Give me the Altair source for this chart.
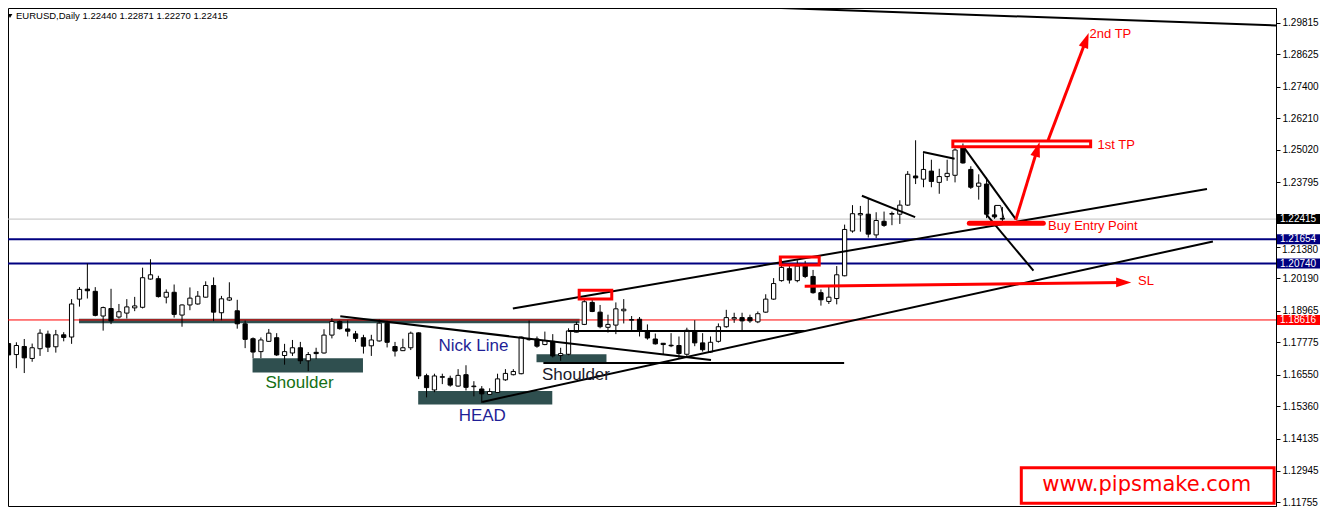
import altair as alt
import pandas as pd

# ---------------- data ----------------
title_text = "EURUSD,Daily  1.22440 1.22871 1.22270 1.22415"

opens = [1.17727, 1.17313, 1.17617, 1.17167, 1.17533, 1.18082, 1.17606, 1.18057, 1.17973, 1.19401,
         1.19778, 1.19694, 1.18764, 1.19046, 1.18727, 1.18874, 1.19071, 1.19093, 1.20156, 1.20170,
         1.19474, 1.19658, 1.18800, 1.19181, 1.19218, 1.19474, 1.19914, 1.18888, 1.19365, 1.18962,
         1.18471, 1.17910, 1.17423, 1.17811, 1.17947, 1.17277, 1.17372, 1.17569, 1.17079, 1.17397,
         1.17372, 1.18046, 1.18559, 1.18277, 1.18093, 1.17947, 1.17643, 1.17826, 1.18496, 1.17617,
         1.17460, 1.17569, 1.18130, 1.16518, 1.15980, 1.16456, 1.16419, 1.16126, 1.16555, 1.16104,
         1.16017, 1.15811, 1.15885, 1.16361, 1.16555, 1.16592, 1.17874, 1.17899, 1.17690, 1.17811,
         1.17277, 1.17324, 1.18156, 1.18449, 1.19277, 1.18910, 1.18339, 1.18423, 1.18962, 1.18606,
         1.18643, 1.18178, 1.17899, 1.17738, 1.17665, 1.17654, 1.17324, 1.18203, 1.17753, 1.17408,
         1.17811, 1.18361, 1.18654, 1.18705, 1.18705, 1.18544, 1.18910, 1.19401, 1.20097, 1.20548,
         1.20097, 1.20646, 1.20255, 1.19643, 1.19313, 1.19423, 1.20280, 1.21965, 1.22573, 1.22599,
         1.21819, 1.22331, 1.22599, 1.22599, 1.22940, 1.24038, 1.23918, 1.24222, 1.23797, 1.24016,
         1.24064, 1.25137, 1.24284, 1.23650, 1.23734, 1.22573, 1.22440]
highs = [1.17899, 1.17775, 1.17899, 1.17727, 1.18266, 1.18214, 1.18240, 1.18156, 1.19401, 1.19852,
         1.20742, 1.19852, 1.19119, 1.19789, 1.19218, 1.19401, 1.19485, 1.20584, 1.20903, 1.20280,
         1.19767, 1.19951, 1.19200, 1.19841, 1.19705, 1.20071, 1.20218, 1.19522, 1.20035, 1.19375,
         1.18595, 1.17958, 1.17958, 1.18277, 1.18119, 1.17716, 1.17863, 1.17789, 1.17408, 1.17569,
         1.18266, 1.18690, 1.18595, 1.18595, 1.18203, 1.18057, 1.18057, 1.18632, 1.18581, 1.17789,
         1.17910, 1.18178, 1.18150, 1.16592, 1.16592, 1.16592, 1.16518, 1.16764, 1.16910, 1.16310,
         1.16126, 1.16042, 1.16592, 1.16764, 1.16764, 1.17990, 1.18595, 1.17994, 1.18178, 1.18082,
         1.17569, 1.18302, 1.18544, 1.19375, 1.19375, 1.19181, 1.18815, 1.19277, 1.19401, 1.18764,
         1.18727, 1.18449, 1.18104, 1.17750, 1.18119, 1.17994, 1.18324, 1.18606, 1.18119, 1.17994,
         1.18485, 1.18998, 1.18888, 1.18888, 1.18815, 1.18936, 1.19584, 1.20192, 1.20866, 1.20720,
         1.20866, 1.20841, 1.20500, 1.19767, 1.19914, 1.20646, 1.22207, 1.22940, 1.22910, 1.23185,
         1.22672, 1.22698, 1.22698, 1.23123, 1.24222, 1.25383, 1.24896, 1.24650, 1.24310, 1.24650,
         1.25079, 1.25262, 1.24405, 1.24101, 1.23980, 1.22918, 1.22871]
lows = [1.16837, 1.16800, 1.16617, 1.17042, 1.17262, 1.17408, 1.17386, 1.17811, 1.17716, 1.19119,
        1.19423, 1.18753, 1.18214, 1.18460, 1.18669, 1.18669, 1.18947, 1.19050, 1.20134, 1.19460,
        1.19240, 1.18705, 1.18361, 1.18983, 1.19192, 1.19460, 1.18570, 1.18606, 1.19328, 1.18288,
        1.17555, 1.17178, 1.17178, 1.17789, 1.17262, 1.16932, 1.17262, 1.16958, 1.16690, 1.17141,
        1.17350, 1.17921, 1.18251, 1.17994, 1.17789, 1.17350, 1.17262, 1.17800, 1.17581, 1.17240,
        1.17445, 1.17482, 1.16390, 1.15701, 1.15896, 1.16200, 1.16104, 1.16104, 1.15958, 1.15738,
        1.15493, 1.15797, 1.15870, 1.16324, 1.16529, 1.16570, 1.17837, 1.17569, 1.17665, 1.17203,
        1.17079, 1.17288, 1.18150, 1.18423, 1.18910, 1.18302, 1.18141, 1.18082, 1.18485, 1.18240,
        1.17994, 1.17874, 1.17690, 1.17324, 1.17592, 1.17167, 1.17225, 1.17628, 1.17423, 1.17372,
        1.17764, 1.18324, 1.18507, 1.18178, 1.18507, 1.18496, 1.18888, 1.19375, 1.20060, 1.19987,
        1.20035, 1.20192, 1.19606, 1.19156, 1.19218, 1.19203, 1.20260, 1.21903, 1.21940, 1.21720,
        1.21702, 1.22123, 1.22185, 1.22233, 1.22910, 1.23734, 1.23614, 1.23614, 1.23368, 1.23855,
        1.23797, 1.24504, 1.23551, 1.23148, 1.22452, 1.22427, 1.22270]
closes = [1.17299, 1.17654, 1.17189, 1.17569, 1.18119, 1.17592, 1.18057, 1.17958, 1.19218, 1.19767,
          1.19716, 1.18789, 1.19082, 1.18581, 1.18925, 1.19108, 1.19145, 1.20207, 1.20317, 1.19496,
          1.19658, 1.18826, 1.19181, 1.19438, 1.19511, 1.19914, 1.18910, 1.19412, 1.19449, 1.18471,
          1.17885, 1.17408, 1.17863, 1.18119, 1.17299, 1.17423, 1.17569, 1.17079, 1.17313, 1.17350,
          1.18046, 1.18559, 1.18288, 1.18192, 1.17921, 1.17628, 1.17863, 1.18496, 1.17775, 1.17445,
          1.17569, 1.18119, 1.16507, 1.16068, 1.16507, 1.16482, 1.16163, 1.16529, 1.16079, 1.16126,
          1.15833, 1.15921, 1.16397, 1.16603, 1.16676, 1.17973, 1.17910, 1.17628, 1.17837, 1.17262,
          1.17350, 1.18203, 1.18449, 1.19302, 1.18936, 1.18361, 1.18449, 1.19035, 1.19020, 1.18632,
          1.18240, 1.17936, 1.17716, 1.17690, 1.17643, 1.17350, 1.18229, 1.17753, 1.17496, 1.17775,
          1.18361, 1.18705, 1.18705, 1.18581, 1.18581, 1.18852, 1.19401, 1.19987, 1.20595, 1.20119,
          1.20646, 1.20255, 1.19643, 1.19375, 1.19474, 1.20317, 1.22024, 1.22617, 1.22625, 1.21848,
          1.22361, 1.22178, 1.22625, 1.22940, 1.24101, 1.23965, 1.24284, 1.23833, 1.24016, 1.24137,
          1.25016, 1.24529, 1.23614, 1.23771, 1.22599, 1.22500, 1.22415]

tick_vals = [1.29815, 1.28625, 1.27400, 1.26210, 1.25020, 1.23795, 1.22605, 1.21380,
             1.20190, 1.18965, 1.17775, 1.16550, 1.15360, 1.14135, 1.12945, 1.11755]
hidden_tick_labels = [1.22605, 1.21380]   # covered by price boxes on the axis
shifted_label = "1.21380"                 # partly visible just below the 1.21654 box
shifted_label_price = 1.21380

# price level lines across the chart
level_prices = [1.22415, 1.21654, 1.20740, 1.18616]
level_colors = ["#C0C0C0", "#000080", "#000080", "#FF0000"]
level_widths = [1, 2, 2, 1]
# highlighted price boxes on the price axis
box_labels = ["1.22415", "1.21654", "1.20740", "1.18616"]
box_colors = ["#000000", "#000080", "#000080", "#FF0000"]

# dark zones (x1, x2 in bar index; y1, y2 in price)
zone_x1 = [8.94, 30.94, 51.94, 66.94]
zone_x2 = [72.4, 44.94, 68.94, 75.81]
zone_y1 = [1.18494, 1.16639, 1.15430, 1.17020]
zone_y2 = [1.18665, 1.17178, 1.15943, 1.17324]

# black trend lines
tl_x1 = [97.94, 42.06, 70.94, 67.81, 60.06, 63.94, 108.19, 115.94, 121.19, 123.94]
tl_y1 = [1.30364, 1.18753, 1.18203, 1.16995, 1.15529, 1.19046, 1.23295, 1.24943, 1.25090, 1.22599]
tl_x2 = [160.69, 89.06, 100.94, 105.94, 152.69, 151.94, 114.94, 119.94, 127.69, 129.94]
tl_y2 = [1.29705, 1.17104, 1.18203, 1.16995, 1.21573, 1.23551, 1.22489, 1.24687, 1.22416, 1.20474]
# small bracket near last bar
br_x1 = [125.06, 125.06, 125.77]
br_y1 = [1.22452, 1.22929, 1.22929]
br_x2 = [125.06, 125.77, 126.19]
br_y2 = [1.22929, 1.22929, 1.22452]

# red outlined boxes
rb_x1 = [72.35, 97.85, 119.72]
rb_x2 = [76.48, 102.78, 137.19]
rb_y1 = [1.19401, 1.20683, 1.25137]
rb_y2 = [1.19731, 1.20987, 1.25357]

# buy entry bar
entry_x1, entry_x2, entry_p = 121.81, 131.19, 1.22258

# red arrows (start -> head centre)
ar_x1 = [100.94, 127.69, 131.8]
ar_y1 = [1.19888, 1.22379, 1.25383]
ar_x2 = [141.38, 130.44, 136.61]
ar_y2 = [1.20031, 1.25049, 1.29156]
ar_angle = [90, 17, 20]
arrow_head = "M0,-1L-0.65,1L0.65,1Z"

# pattern labels
pat_text = ["Shoulder", "Nick Line", "HEAD", "Shoulder"]
pat_x = [36.9, 58.94, 60.06, 71.94]
pat_y = [1.16225, 1.17654, 1.15017, 1.16555]
pat_color = ["#157015", "#1f1f96", "#1f1f96", "#1a1a2a"]

# trade labels
tr_text = ["2nd TP", "1st TP", "Buy Entry Point", "SL"]
tr_x = [137.06, 138.06, 131.8, 143.2]
tr_y = [1.29375, 1.25200, 1.22159, 1.20071]

# watermark
wm_text = "www.pipsmake.com"
wm_x1, wm_x2, wm_y1, wm_y2 = 128.4, 160.45, 1.11709, 1.13049
wm_cx, wm_cy = 144.3, 1.12416

# ---------------- chart ----------------
W, H = 1268, 498
PAD_R = 45
xs = alt.Scale(domain=[-0.0625, 160.69], nice=False, zero=False)
ys = alt.Scale(domain=[1.11610, 1.30364], nice=False, zero=False)
hide_expr = " || ".join("abs(datum.value - %s) < 0.000001" % v for v in hidden_tick_labels)
yaxis = alt.Axis(orient="right", values=tick_vals, format=".5f", title=None, grid=False,
                 labelFont="Liberation Sans", labelFontSize=10, labelColor="#000000",
                 tickColor="#000000", tickSize=4, domainColor="#000000", labelPadding=2,
                 labelFlush=False, labelOverlap=False,
                 labelExpr="(" + hide_expr + ") ? '' : datum.label")


def X(f):
    return alt.X(f, type="quantitative", scale=xs, axis=None)


def Y(f):
    return alt.Y(f, type="quantitative", scale=ys, axis=yaxis)


cdf = pd.DataFrame({"i": list(range(len(opens))), "open": opens, "high": highs,
                    "low": lows, "close": closes})
cdf["dir"] = ["up" if c >= o else "down" for o, c in zip(opens, closes)]

zones = alt.Chart(pd.DataFrame({"x1": zone_x1, "x2": zone_x2, "y1": zone_y1, "y2": zone_y2})).mark_rect(
    color="#2F4F4F").encode(x=X("x1"), x2="x2", y=Y("y1"), y2="y2")

levels = alt.Chart(pd.DataFrame({"p": level_prices, "c": level_colors, "w": level_widths})).mark_rule().encode(
    y=Y("p"), color=alt.Color("c:N", scale=None), strokeWidth=alt.StrokeWidth("w:Q", scale=None))

base = alt.Chart(cdf)
wicks = base.mark_rule(color="black", strokeWidth=1).encode(x=X("i"), y=Y("low"), y2="high")
bodies = base.transform_calculate(
    xl="datum.i - 0.27", xr="datum.i + 0.27",
    top="max(datum.open, datum.close)", bot="min(datum.open, datum.close)"
).mark_rect(stroke="black", strokeWidth=1).encode(
    x=X("xl"), x2="xr", y=Y("bot"), y2="top",
    fill=alt.Fill("dir:N", scale=alt.Scale(domain=["up", "down"], range=["white", "black"]), legend=None))

tlines = alt.Chart(pd.DataFrame({"x1": tl_x1, "y1": tl_y1, "x2": tl_x2, "y2": tl_y2})).mark_rule(
    color="black", strokeWidth=2).encode(x=X("x1"), y=Y("y1"), x2="x2", y2="y2")
bracket = alt.Chart(pd.DataFrame({"x1": br_x1, "y1": br_y1, "x2": br_x2, "y2": br_y2})).mark_rule(
    color="black", strokeWidth=1).encode(x=X("x1"), y=Y("y1"), x2="x2", y2="y2")

redboxes = alt.Chart(pd.DataFrame({"x1": rb_x1, "x2": rb_x2, "y1": rb_y1, "y2": rb_y2})).mark_rect(
    fill="white", fillOpacity=0, stroke="#FF0000", strokeWidth=3).encode(
    x=X("x1"), x2="x2", y=Y("y1"), y2="y2")

entry = alt.Chart(pd.DataFrame({"x1": [entry_x1], "x2": [entry_x2], "p": [entry_p]})).mark_rule(
    color="#FF0000", strokeWidth=5, strokeCap="round").encode(x=X("x1"), x2="x2", y=Y("p"))

adf = pd.DataFrame({"x1": ar_x1, "y1": ar_y1, "x2": ar_x2, "y2": ar_y2, "a": ar_angle})
arrows = alt.Chart(adf).mark_rule(color="#FF0000", strokeWidth=3).encode(
    x=X("x1"), y=Y("y1"), x2="x2", y2="y2")
heads = alt.Chart(adf).mark_point(shape=arrow_head, filled=True, color="#FF0000", size=230,
                                  opacity=1).encode(x=X("x2"), y=Y("y2"), angle=alt.Angle("a:Q", scale=None))

pat = alt.Chart(pd.DataFrame({"t": pat_text, "x": pat_x, "y": pat_y, "c": pat_color})).mark_text(
    font="Liberation Sans", fontSize=17, baseline="middle", align="center").encode(
    x=X("x"), y=Y("y"), text="t:N", color=alt.Color("c:N", scale=None))

trade = alt.Chart(pd.DataFrame({"t": tr_text, "x": tr_x, "y": tr_y})).mark_text(
    font="Liberation Sans", fontSize=13, baseline="middle", align="left", color="#FF0000").encode(
    x=X("x"), y=Y("y"), text="t:N")

wm_box = alt.Chart(pd.DataFrame({"x1": [wm_x1], "x2": [wm_x2], "y1": [wm_y1], "y2": [wm_y2]})).mark_rect(
    fill="white", stroke="#FF0000", strokeWidth=3).encode(x=X("x1"), x2="x2", y=Y("y1"), y2="y2")
wm_txt = alt.Chart(pd.DataFrame({"t": [wm_text], "x": [wm_cx], "y": [wm_cy]})).mark_text(
    font="DejaVu Sans", fontSize=21, baseline="middle", align="center", color="#FF0000").encode(
    x=X("x"), y=Y("y"), text="t:N")

bdf = pd.DataFrame({"p": level_prices, "t": box_labels, "c": box_colors})
pboxes = alt.Chart(bdf).mark_rect(yOffset=-5, y2Offset=5).encode(
    x=alt.value(W + 1), x2=alt.value(W + PAD_R - 1), y=Y("p"), y2="p", color=alt.Color("c:N", scale=None))
ptext = alt.Chart(bdf).mark_text(font="Liberation Sans", fontSize=10, align="left", baseline="middle",
                                 color="white").encode(x=alt.value(W + 4), y=Y("p"), text="t:N")
stext = alt.Chart(pd.DataFrame({"t": [shifted_label], "p": [shifted_label_price]})).mark_text(
    font="Liberation Sans", fontSize=10, align="left", baseline="middle", dy=3, color="black").encode(
    x=alt.value(W + 6), y=Y("p"), text="t:N")

tdf = pd.DataFrame({"t": [title_text]})
ttl_arrow = alt.Chart(tdf).mark_point(shape="triangle-down", filled=True, color="black", size=22,
                                      opacity=1).encode(x=alt.value(2), y=alt.value(8))
ttl = alt.Chart(tdf).mark_text(font="Liberation Sans", fontSize=9.5, align="left", baseline="middle",
                               color="black").encode(x=alt.value(8), y=alt.value(8), text="t:N")

chart = alt.layer(
    zones, levels, wicks, bodies, tlines, bracket, redboxes, entry, arrows, heads,
    pat, trade, wm_box, wm_txt, stext, pboxes, ptext, ttl_arrow, ttl
).properties(
    width=W, height=H,
    autosize=alt.AutoSizeParams(type="none"),
    padding={"left": 0, "top": 0, "right": PAD_R, "bottom": 2},
    background="white",
).configure_view(stroke="#000000", strokeWidth=1)

chart.save("out.html", embed_options={"renderer": "svg", "actions": False})
